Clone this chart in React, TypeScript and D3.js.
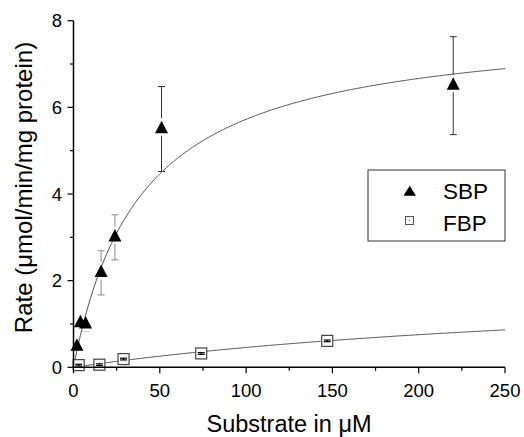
import React from "react";
import * as d3 from "d3";

const sbpX = [2, 4, 7, 16, 24, 51, 220];
const sbpY = [0.48, 1.02, 0.99, 2.18, 3.0, 5.5, 6.5];
const sbpErr = [0.1, 0.1, 0.15, 0.51, 0.52, 0.98, 1.13];
const fbpX = [3, 15, 29, 74, 147];
const fbpY = [0.05, 0.06, 0.19, 0.32, 0.61];
const fbpErr = [0.02, 0.02, 0.02, 0.02, 0.02];
const sbpFit = { vmax: 7.98, km: 39.4 };
const fbpFit = { vmax: 2.11, km: 361 };
const xTicks = [0, 50, 100, 150, 200, 250];
const xMinor = [25, 75, 125, 175, 225];
const yTicks = [0, 2, 4, 6, 8];
const yMinor = [1, 3, 5, 7];
const legendLabels = ["SBP", "FBP"];

const FONT = "'Liberation Sans', Arial, Helvetica, sans-serif";

export default function App() {
  const x = d3.scaleLinear().domain([0, 250]).range([73.5, 505]);
  const y = d3.scaleLinear().domain([0, 8]).range([367.3, 20.7]);
  const x0 = x(0);
  const y0 = y(0);

  const fitLine = (f: { vmax: number; km: number }) => {
    const pts = d3.range(0, 250.01, 1).map((v) => [v, (f.vmax * v) / (f.km + v)] as [number, number]);
    return d3
      .line<[number, number]>()
      .x((d) => x(d[0]))
      .y((d) => y(d[1]))
      .curve(d3.curveMonotoneX)(pts) as string;
  };

  const triW = 13;
  const triH = 12.5;
  const triPath = (cx: number, cy: number, w = triW, h = triH) =>
    `M${cx},${cy - (2 * h) / 3}L${cx + w / 2},${cy + h / 3}L${cx - w / 2},${cy + h / 3}Z`;

  const errColor = (i: number) => (sbpX[i] > 40 ? "#333" : "#888");
  const cap = 3.5;
  const sq = 11;

  return (
    <svg
      width={524}
      height={437}
      style={{ position: "absolute", left: 0, top: 0, background: "#fff" }}
      fontFamily={FONT}
    >
      {/* SBP error bars */}
      {sbpX.map((v, i) => {
        const cx = x(v);
        const t = y(sbpY[i] + sbpErr[i]);
        const b = y(sbpY[i] - sbpErr[i]);
        return (
          <g key={"se" + i} stroke={errColor(i)} strokeWidth={1}>
            <line x1={cx} x2={cx} y1={t} y2={b} />
            <line x1={cx - cap} x2={cx + cap} y1={t} y2={t} />
            <line x1={cx - cap} x2={cx + cap} y1={b} y2={b} />
          </g>
        );
      })}
      {/* white halos */}
      {sbpX.map((v, i) => (
        <path key={"h" + i} d={triPath(x(v), y(sbpY[i]))} fill="#fff" stroke="#fff" strokeWidth={5} strokeLinejoin="round" />
      ))}
      {/* fit curves */}
      <path d={fitLine(sbpFit)} fill="none" stroke="#555" strokeWidth={1} />
      <path d={fitLine(fbpFit)} fill="none" stroke="#555" strokeWidth={1} />
      {/* SBP triangles */}
      {sbpX.map((v, i) => (
        <path key={"t" + i} d={triPath(x(v), y(sbpY[i]))} fill="#000" />
      ))}
      {/* FBP squares */}
      {fbpX.map((v, i) => (
        <rect
          key={"s" + i}
          x={x(v) - sq / 2}
          y={y(fbpY[i]) - sq / 2}
          width={sq}
          height={sq}
          fill="#fff"
          stroke="#444"
          strokeWidth={1.2}
        />
      ))}
      {fbpX.map((v, i) => {
        const cx = x(v);
        const t = y(fbpY[i] + fbpErr[i]);
        const b = y(fbpY[i] - fbpErr[i]);
        return (
          <g key={"fe" + i} stroke="#000" strokeWidth={1.2}>
            <line x1={cx} x2={cx} y1={t} y2={b} />
            <line x1={cx - cap} x2={cx + cap} y1={t} y2={t} />
            <line x1={cx - cap} x2={cx + cap} y1={b} y2={b} />
          </g>
        );
      })}

      {/* axes */}
      <line x1={x0} x2={x0} y1={y(8)} y2={y0 + 0.75} stroke="#000" strokeWidth={1.5} />
      <line x1={x0 - 0.75} x2={x(250)} y1={y0} y2={y0} stroke="#000" strokeWidth={1.5} />
      {yTicks.map((t) => (
        <g key={"yt" + t}>
          <line x1={x0 - 6} x2={x0} y1={y(t)} y2={y(t)} stroke="#000" strokeWidth={1.2} />
          <text x={62} y={y(t)} dy="0.36em" textAnchor="end" fontSize={18.5} fill="#000">
            {t}
          </text>
        </g>
      ))}
      {yMinor.map((t) => (
        <line key={"ym" + t} x1={x0 - 3.5} x2={x0} y1={y(t)} y2={y(t)} stroke="#000" strokeWidth={1.2} />
      ))}
      {xTicks.map((t) => (
        <g key={"xt" + t}>
          <line x1={x(t)} x2={x(t)} y1={y0} y2={y0 + 6} stroke="#000" strokeWidth={1.2} />
          <text x={x(t)} y={396.7} textAnchor="middle" fontSize={18.5} fill="#000">
            {t}
          </text>
        </g>
      ))}
      {xMinor.map((t) => (
        <line key={"xm" + t} x1={x(t)} x2={x(t)} y1={y0} y2={y0 + 3.5} stroke="#000" strokeWidth={1.2} />
      ))}

      {/* axis titles */}
      <text x={289} y={431.5} textAnchor="middle" fontSize={23.5} fill="#000">
        Substrate in μM
      </text>
      <text
        transform={`translate(32,${187.5}) rotate(-90)`}
        textAnchor="middle"
        fontSize={24}
        fill="#000"
      >
        Rate (μmol/min/mg protein)
      </text>

      {/* legend */}
      <rect x={368} y={170} width={137} height={71} fill="#fff" stroke="#333" strokeWidth={1} />
      <path d={triPath(409.7, 192.5, 12.5, 10)} fill="#000" />
      <rect x={405.5} y={216.5} width={8} height={8} fill="#fff" stroke="#555" strokeWidth={1} />
      <circle cx={409.5} cy={220.5} r={0.7} fill="#555" />
      <text x={443} y={199.3} fontSize={22.5} fill="#000">
        {legendLabels[0]}
      </text>
      <text x={443} y={231} fontSize={22.5} fill="#000">
        {legendLabels[1]}
      </text>
    </svg>
  );
}
